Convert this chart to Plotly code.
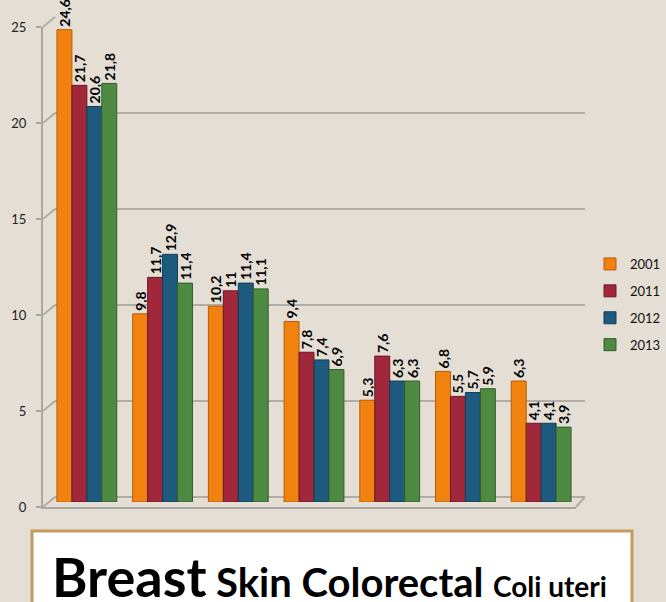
import plotly.graph_objects as go

# ---- data ----
categories = ["G1", "G2", "G3", "G4", "G5", "G6", "G7"]
series_names = ["2001", "2011", "2012", "2013"]
v2001 = [24.6, 9.8, 10.2, 9.4, 5.3, 6.8, 6.3]
v2011 = [21.7, 11.7, 11.0, 7.8, 7.6, 5.5, 4.1]
v2012 = [20.6, 12.9, 11.4, 7.4, 6.3, 5.7, 4.1]
v2013 = [21.8, 11.4, 11.1, 6.9, 6.3, 5.9, 3.9]
series_values = [v2001, v2011, v2012, v2013]
y_ticks = [0, 5, 10, 15, 20, 25]
box_words = ["Breast", "Skin Colorectal", "Coli uteri"]

colors = ["#F2820F", "#A0283A", "#1D5A7E", "#4E8A42"]
edge_colors = ["#B35E05", "#6E1826", "#123D57", "#335E2A"]

W, H = 666, 602
BG = "#E4DED4"
YMAX = 25

# pixel layout (front axis, mid-depth bars, back wall)
FRONT = dict(x0=43, x1=576, y0=507, y1=27)
MID = dict(x0=49, x1=579, y0=502, y1=22)
BACK = dict(x0=55, x1=585, y0=497, y1=17)


def px(x):
    return x / W


def py(y):
    return 1 - y / H


def fmt(v):
    return ("%g" % v).replace(".", ",")


def val_to_px(v, plane):
    return plane["y0"] + (plane["y1"] - plane["y0"]) * v / YMAX


fig = go.Figure()

# invisible anchor traces so the back-wall and front-axis subplots are drawn
fig.add_trace(go.Scatter(x=[0.5], y=[0], xaxis="x", yaxis="y", mode="markers",
                         marker=dict(opacity=0), showlegend=False, hoverinfo="skip"))

# bars on subplot x2/y2 (mid depth)
for name, vals, c, ec in zip(series_names, series_values, colors, edge_colors):
    fig.add_trace(go.Bar(
        x=categories, y=vals, name=name,
        xaxis="x2", yaxis="y2",
        marker=dict(color=c, line=dict(color=ec, width=1)),
        text=[fmt(v) for v in vals],
        textposition="outside", textangle=-90,
        textfont=dict(family="Lato", size=14, color="black", weight="bold"),
        constraintext="none", cliponaxis=False,
        legendgroup=name,
    ))

fig.add_trace(go.Scatter(x=[0.5], y=[0], xaxis="x3", yaxis="y3", mode="markers",
                         marker=dict(opacity=0), showlegend=False, hoverinfo="skip"))

grid_col = "#B0ADA7"
axis_col = "#A9A7A2"

fig.update_layout(
    width=W, height=H,
    margin=dict(l=0, r=0, t=0, b=0, autoexpand=False),
    paper_bgcolor=BG, plot_bgcolor="rgba(0,0,0,0)",
    barmode="group", bargap=0.21, bargroupgap=0,
    showlegend=True, hovermode=False,
    legend=dict(x=px(590), y=py(249), xanchor="left", yanchor="top",
                bgcolor="rgba(0,0,0,0)", tracegroupgap=7,
                font=dict(family="Lato", size=13, color="#111111")),
    # back wall gridlines
    xaxis=dict(domain=[px(BACK["x0"]), px(BACK["x1"])], range=[0, 1], visible=False,
               anchor="y"),
    yaxis=dict(domain=[py(BACK["y0"]), py(BACK["y1"])], range=[0, YMAX], anchor="x",
               tickvals=y_ticks, showticklabels=False, ticks="",
               showgrid=True, gridcolor=grid_col, gridwidth=2,
               zeroline=True, zerolinecolor=grid_col, zerolinewidth=2,
               showline=False),
    # bars
    xaxis2=dict(domain=[px(MID["x0"]), px(MID["x1"])], anchor="y2", type="category",
                showticklabels=False, showgrid=False, zeroline=False,
                showline=False, ticks=""),
    yaxis2=dict(domain=[py(MID["y0"]), py(MID["y1"])], range=[0, YMAX], anchor="x2",
                visible=False),
    # front axis
    xaxis3=dict(domain=[px(FRONT["x0"]), px(FRONT["x1"])], range=[0, 1], anchor="y3",
                showticklabels=False, showgrid=False, zeroline=False,
                showline=True, linecolor=axis_col, linewidth=2, ticks=""),
    yaxis3=dict(domain=[py(FRONT["y0"]), py(FRONT["y1"])], range=[0, YMAX], anchor="x3",
                tickvals=y_ticks, showgrid=False, zeroline=False,
                showline=True, linecolor=axis_col, linewidth=2,
                ticks="outside", ticklen=5, tickcolor=axis_col, tickwidth=2,
                ticklabelstandoff=7,
                tickfont=dict(family="Lato", size=13, color="#222222")),
)

# depth connectors from front axis ticks to the back wall gridlines
for v in y_ticks:
    fig.add_shape(type="line", xref="paper", yref="paper",
                  x0=px(FRONT["x0"]), y0=py(val_to_px(v, FRONT)),
                  x1=px(BACK["x0"]), y1=py(val_to_px(v, BACK)),
                  line=dict(color=grid_col, width=2), layer="below")
# floor right edge
fig.add_shape(type="line", xref="paper", yref="paper",
              x0=px(FRONT["x1"]), y0=py(FRONT["y0"]),
              x1=px(BACK["x1"]), y1=py(BACK["y0"]),
              line=dict(color=grid_col, width=2), layer="below")

# label box
fig.add_shape(type="rect", xref="paper", yref="paper",
              x0=px(32), x1=px(632), y0=py(615), y1=py(531),
              fillcolor="white", line=dict(color="#C49A5C", width=3),
              layer="above")

word_specs = [(box_words[0], 54, 50, 611), (box_words[1], 40, 214, 608),
              (box_words[2], 28, 491, 605)]
for txt, fs, x0, ybot in word_specs:
    fig.add_annotation(text="<b>" + txt + "</b>", xref="paper", yref="paper",
                       x=px(x0), y=py(ybot), xanchor="left", yanchor="bottom",
                       showarrow=False,
                       font=dict(family="Lato", size=fs, color="black"))

fig.write_html("out.html",
               config={"displayModeBar": False},
               post_script="document.body.style.margin='0';"
                           "document.body.style.overflow='hidden';"
                           "document.body.style.background='" + BG + "';")
